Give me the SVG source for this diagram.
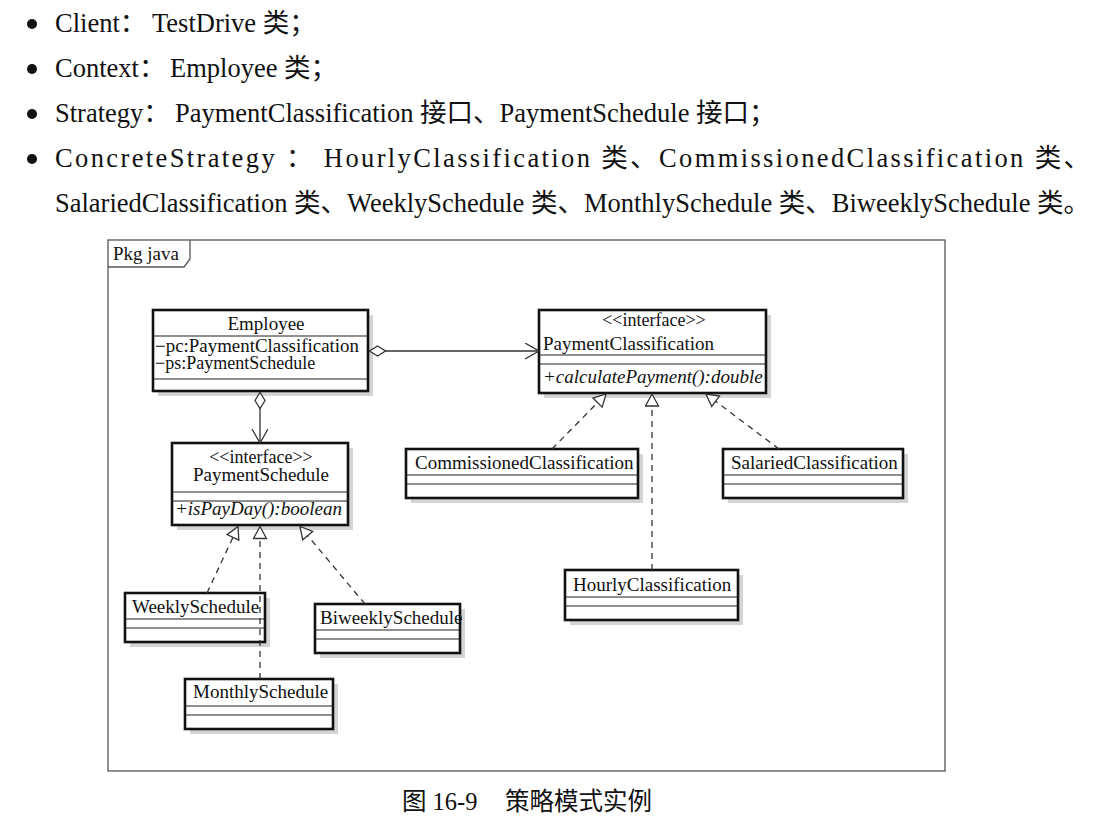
<svg xmlns="http://www.w3.org/2000/svg" width="1102" height="830" viewBox="0 0 1102 830">
<style>
.txt{font-family:"Liberation Serif","Noto Sans CJK SC",serif;fill:#111}
.top{font-size:26.5px}
.cap{font-size:24.5px}
.d{font-family:"Liberation Serif","Noto Sans CJK SC",serif;font-size:19px;fill:#111}
.s{font-size:18px}
.it{font-style:italic}
.box{fill:#fff;stroke:#111;stroke-width:2.6}
.sh{fill:#d4d4d4}
.div{stroke:#222;stroke-width:1.2}
.assoc{fill:none;stroke:#333;stroke-width:1.3}
.real{fill:none;stroke:#333;stroke-width:1.3;stroke-dasharray:6 5}
.frame{fill:none;stroke:#555;stroke-width:1.3}
</style>
<defs>
<marker id="diamond" markerUnits="userSpaceOnUse" markerWidth="18" markerHeight="12" refX="0.5" refY="6" orient="auto">
<path d="M0.5,6 L8.5,1 L16.5,6 L8.5,11 Z" fill="#fff" stroke="#333" stroke-width="1.3"/>
</marker>
<marker id="open" markerUnits="userSpaceOnUse" markerWidth="16" markerHeight="18" refX="14" refY="8" orient="auto">
<path d="M0,0 L14,8 L0,16" fill="none" stroke="#333" stroke-width="1.3"/>
</marker>
<marker id="tri" markerUnits="userSpaceOnUse" markerWidth="15" markerHeight="16" refX="13" refY="7.5" orient="auto">
<path d="M1,1 L13,7.5 L1,14 Z" fill="#fff" stroke="#333" stroke-width="1.3"/>
</marker>
</defs>
<rect width="1102" height="830" fill="#fff"/>

<g id="bullets" class="txt top">
<circle cx="32" cy="24" r="5" fill="#111"/>
<circle cx="32" cy="69" r="5" fill="#111"/>
<circle cx="32" cy="114" r="5" fill="#111"/>
<circle cx="32" cy="159" r="5" fill="#111"/>
<text x="55" y="32">Client<tspan>：</tspan><tspan x="152">TestDrive 类；</tspan></text>
<text x="55" y="77">Context<tspan>：</tspan><tspan x="170">Employee 类；</tspan></text>
<text x="55" y="122">Strategy<tspan>：</tspan><tspan x="175">PaymentClassification 接口、PaymentSchedule 接口；</tspan></text>
<text x="55" y="167" textLength="1035" lengthAdjust="spacing">ConcreteStrategy ： HourlyClassification 类、CommissionedClassification 类、</text>
<text x="55" y="212" textLength="1035" lengthAdjust="spacing">SalariedClassification 类、WeeklySchedule 类、MonthlySchedule 类、BiweeklySchedule 类。</text>
</g>

<g id="package">
<rect class="frame" x="108" y="240" width="837" height="531"/>
<polyline class="frame" points="108,267 184,267 190,259 190,240"/>
<text class="d" x="113" y="260">Pkg java</text>
</g>

<g id="Employee">
<rect class="sh" x="158" y="315" width="215" height="81"/>
<rect class="box" x="153" y="310" width="215" height="81"/>
<line class="div" x1="153" y1="336" x2="368" y2="336"/>
<line class="div" x1="153" y1="379" x2="368" y2="379"/>
<text class="d" x="266" y="330" text-anchor="middle">Employee</text>
<text class="d s" x="155" y="352" textLength="204" lengthAdjust="spacingAndGlyphs">−pc:PaymentClassification</text>
<text class="d s" x="155" y="369">−ps:PaymentSchedule</text>
</g>

<g id="PaymentClassification">
<rect class="sh" x="544" y="315" width="227" height="83"/>
<rect class="box" x="539" y="310" width="227" height="83"/>
<line class="div" x1="539" y1="355" x2="766" y2="355"/>
<line class="div" x1="539" y1="364" x2="766" y2="364"/>
<text class="d s" x="654" y="326" text-anchor="middle">&lt;&lt;interface&gt;&gt;</text>
<text class="d" x="543" y="350">PaymentClassification</text>
<text class="d it" x="543" y="383">+calculatePayment():double</text>
</g>

<g id="PaymentSchedule">
<rect class="sh" x="177" y="448" width="176" height="82"/>
<rect class="box" x="172" y="443" width="176" height="82"/>
<line class="div" x1="172" y1="492" x2="348" y2="492"/>
<line class="div" x1="172" y1="501" x2="348" y2="501"/>
<text class="d s" x="261" y="463" text-anchor="middle">&lt;&lt;interface&gt;&gt;</text>
<text class="d" x="261" y="481" text-anchor="middle">PaymentSchedule</text>
<text class="d it" x="175" y="515">+isPayDay():boolean</text>
</g>

<g id="CommissionedClassification">
<rect class="sh" x="411" y="454" width="232" height="49"/>
<rect class="box" x="406" y="449" width="232" height="49"/>
<line class="div" x1="406" y1="475" x2="638" y2="475"/>
<line class="div" x1="406" y1="484" x2="638" y2="484"/>
<text class="d" x="415" y="469">CommissionedClassification</text>
</g>

<g id="SalariedClassification">
<rect class="sh" x="728" y="454" width="180" height="49"/>
<rect class="box" x="723" y="449" width="180" height="49"/>
<line class="div" x1="723" y1="475" x2="903" y2="475"/>
<line class="div" x1="723" y1="484" x2="903" y2="484"/>
<text class="d" x="731" y="469">SalariedClassification</text>
</g>

<g id="HourlyClassification">
<rect class="sh" x="570" y="575" width="173" height="50"/>
<rect class="box" x="565" y="570" width="173" height="50"/>
<line class="div" x1="565" y1="597" x2="738" y2="597"/>
<line class="div" x1="565" y1="606" x2="738" y2="606"/>
<text class="d" x="573" y="591">HourlyClassification</text>
</g>

<g id="WeeklySchedule">
<rect class="sh" x="130" y="598" width="140" height="49"/>
<rect class="box" x="125" y="593" width="140" height="49"/>
<line class="div" x1="125" y1="619" x2="265" y2="619"/>
<line class="div" x1="125" y1="628" x2="265" y2="628"/>
<text class="d" x="132" y="613">WeeklySchedule</text>
</g>

<g id="BiweeklySchedule">
<rect class="sh" x="320" y="609" width="145" height="49"/>
<rect class="box" x="315" y="604" width="145" height="49"/>
<line class="div" x1="315" y1="630" x2="460" y2="630"/>
<line class="div" x1="315" y1="639" x2="460" y2="639"/>
<text class="d" x="320" y="624">BiweeklySchedule</text>
</g>

<g id="MonthlySchedule">
<rect class="sh" x="190" y="684" width="148" height="50"/>
<rect class="box" x="185" y="679" width="148" height="50"/>
<line class="div" x1="185" y1="706" x2="333" y2="706"/>
<line class="div" x1="185" y1="715" x2="333" y2="715"/>
<text class="d" x="193" y="698">MonthlySchedule</text>
</g>

<g id="connectors">
<path class="assoc" d="M369.5,351 H539" marker-start="url(#diamond)" marker-end="url(#open)"/>
<path class="assoc" d="M260,392.5 V443" marker-start="url(#diamond)" marker-end="url(#open)"/>
<path class="real" d="M552,449 L606,394" marker-end="url(#tri)"/>
<path class="real" d="M652,570 V394" marker-end="url(#tri)"/>
<path class="real" d="M779,449 L706,394" marker-end="url(#tri)"/>
<path class="real" d="M207,593 L238,526.5" marker-end="url(#tri)"/>
<path class="real" d="M260,679 V526.5" marker-end="url(#tri)"/>
<path class="real" d="M365,604 L300,526.5" marker-end="url(#tri)"/>
</g>

<g id="caption" class="txt cap">
<text x="402" y="810">图 16-9</text>
<text x="505" y="810">策略模式实例</text>
</g>
</svg>
